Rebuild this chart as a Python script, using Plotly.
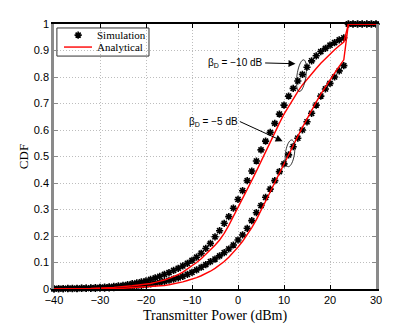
import numpy as np
import plotly.graph_objects as go

# transmit power grid (dBm)
power_dbm = list(range(-40, 31))

# simulation, beta_D = -10 dB
sim_m10 = [0.001, 0.001, 0.001, 0.002, 0.002, 0.002, 0.003, 0.003, 0.004, 0.005,
           0.006, 0.007, 0.008, 0.010, 0.012, 0.014, 0.017, 0.020, 0.023, 0.027,
           0.031, 0.036, 0.042, 0.048, 0.055, 0.062, 0.070, 0.078, 0.087, 0.097,
           0.108, 0.120, 0.135, 0.153, 0.172, 0.197, 0.220, 0.248, 0.273, 0.305,
           0.338, 0.371, 0.409, 0.445, 0.483, 0.525, 0.558, 0.591, 0.625, 0.660,
           0.694, 0.728, 0.757, 0.785, 0.810, 0.837, 0.861, 0.880, 0.896, 0.908,
           0.920, 0.930, 0.940, 0.948, 1.0, 1.0, 1.0, 1.0, 1.0, 1.0, 1.0]

# simulation, beta_D = -5 dB
sim_m5 = [0.000, 0.001, 0.001, 0.001, 0.001, 0.001, 0.002, 0.002, 0.002, 0.002,
          0.003, 0.003, 0.004, 0.005, 0.006, 0.007, 0.008, 0.010, 0.012, 0.014,
          0.016, 0.019, 0.022, 0.025, 0.029, 0.033, 0.037, 0.042, 0.048, 0.055,
          0.063, 0.072, 0.082, 0.092, 0.103, 0.113, 0.125, 0.137, 0.151, 0.166,
          0.185, 0.204, 0.229, 0.258, 0.288, 0.315, 0.346, 0.377, 0.409, 0.443,
          0.472, 0.506, 0.537, 0.569, 0.600, 0.631, 0.663, 0.694, 0.728, 0.755,
          0.776, 0.800, 0.823, 0.843, 1.0, 1.0, 1.0, 1.0, 1.0, 1.0, 1.0]

# analytical, beta_D = -10 dB
ana_m10 = [0.000, 0.000, 0.001, 0.001, 0.001, 0.001, 0.002, 0.002, 0.002, 0.003,
           0.003, 0.004, 0.005, 0.006, 0.007, 0.008, 0.010, 0.012, 0.014, 0.016,
           0.018, 0.021, 0.025, 0.029, 0.034, 0.040, 0.046, 0.054, 0.064, 0.075,
           0.087, 0.100, 0.114, 0.130, 0.147, 0.165, 0.185, 0.210, 0.240, 0.273,
           0.305, 0.340, 0.375, 0.410, 0.445, 0.482, 0.520, 0.558, 0.592, 0.626,
           0.660, 0.690, 0.718, 0.745, 0.770, 0.792, 0.812, 0.832, 0.852, 0.870,
           0.888, 0.903, 0.918, 0.932, 1.0, 1.0, 1.0, 1.0, 1.0, 1.0, 1.0]

# analytical, beta_D = -5 dB
ana_m5 = [0.000, 0.000, 0.000, 0.000, 0.000, 0.000, 0.000, 0.001, 0.001, 0.001,
          0.001, 0.001, 0.002, 0.002, 0.002, 0.003, 0.004, 0.004, 0.005, 0.006,
          0.007, 0.008, 0.009, 0.011, 0.013, 0.016, 0.019, 0.022, 0.027, 0.032,
          0.037, 0.043, 0.050, 0.058, 0.067, 0.078, 0.090, 0.104, 0.120, 0.138,
          0.158, 0.180, 0.205, 0.232, 0.262, 0.295, 0.330, 0.366, 0.402, 0.438,
          0.472, 0.507, 0.542, 0.576, 0.610, 0.643, 0.675, 0.705, 0.735, 0.763,
          0.790, 0.815, 0.840, 0.865, 1.0, 1.0, 1.0, 1.0, 1.0, 1.0, 1.0]

legend_labels = ["Simulation", "Analytical"]

SERIF = "Liberation Serif"
SANS = "Liberation Sans"

fig = go.Figure()

sim_marker = dict(symbol="asterisk-open", size=6, color="black",
                  line=dict(color="black", width=1.6))

for ys in [sim_m10, sim_m5]:
    fig.add_trace(go.Scatter(
        x=power_dbm, y=ys, mode="markers", name="Simulation",
        marker=sim_marker, showlegend=False, cliponaxis=False))

for ys in [ana_m10, ana_m5]:
    fig.add_trace(go.Scatter(
        x=power_dbm, y=ys, mode="lines", name="Analytical",
        line=dict(color="#ff0000", width=1.4), showlegend=False,
        cliponaxis=False))

# hand-made legend (matlab style, compact box in upper left)
fig.add_shape(type="rect", xref="paper", yref="paper",
              x0=0.009, x1=0.295, y0=0.879, y1=0.985,
              fillcolor="white", line=dict(color="#333333", width=1), layer="between")
fig.add_trace(go.Scatter(x=[0.075], y=[0.958], mode="markers", xaxis="x2", yaxis="y2",
                         marker=sim_marker, showlegend=False, hoverinfo="skip"))
fig.add_shape(type="line", xref="paper", yref="paper", x0=0.031, x1=0.118,
              y0=0.913, y1=0.913, line=dict(color="#ff0000", width=1.4), layer="above")
for lab, yy in zip(legend_labels, [0.958, 0.913]):
    fig.add_annotation(xref="paper", yref="paper", x=0.128, y=yy, text=lab,
                       xanchor="left", yanchor="middle", showarrow=False,
                       font=dict(family=SERIF, size=11, color="black"))


def ellipse_path(w, h, tilt_deg):
    t = np.linspace(0, 2 * np.pi, 41)
    a = np.deg2rad(tilt_deg)
    px = w / 2 * np.cos(t)
    py = h / 2 * np.sin(t)
    xr = px * np.cos(a) - py * np.sin(a)
    yr = px * np.sin(a) + py * np.cos(a)
    pts = [f"{xx:.2f},{yy:.2f}" for xx, yy in zip(xr, yr)]
    return "M" + " L".join(pts) + " Z"


# ellipses round the curve pairs
for cx, cy, w, h in [(13.8, 0.805, 9, 32), (11.3, 0.512, 9, 27)]:
    fig.add_shape(type="path", xref="x", yref="y", xsizemode="pixel",
                  ysizemode="pixel", xanchor=cx, yanchor=cy,
                  path=ellipse_path(w, h, -8),
                  line=dict(color="black", width=0.8))

# labels with arrows
fig.add_annotation(x=12.5, y=0.85, ax=5.9, ay=0.853, axref="x", ayref="y",
                   text="β<sub>D</sub> = −10 dB", xanchor="right", yanchor="middle",
                   showarrow=True, arrowhead=2, arrowsize=1.4,
                   arrowwidth=1, arrowcolor="black",
                   font=dict(family=SANS, size=10, color="black"))
fig.add_annotation(x=9.7, y=0.558, ax=0.4, ay=0.632, axref="x", ayref="y",
                   text="β<sub>D</sub> = −5 dB", xanchor="right", yanchor="middle",
                   showarrow=True, arrowhead=2, arrowsize=1.4,
                   arrowwidth=1, arrowcolor="black",
                   font=dict(family=SANS, size=10, color="black"))

# page body has an 8 px margin, so the figure is drawn 8 px smaller
fig.update_layout(
    width=407, height=318,
    margin=dict(l=46, r=39, t=16, b=37),
    paper_bgcolor="white", plot_bgcolor="white",
    font=dict(family=SANS, size=11, color="black"),
    showlegend=False,
    xaxis=dict(range=[-40, 30], dtick=10, tick0=-40, automargin=False,
               showgrid=True, gridcolor="#bdbdbd", griddash="1px,2px", gridwidth=1,
               zeroline=False, showline=True, linecolor="black", linewidth=1.5,
               mirror="ticks", ticks="inside", ticklen=4, tickcolor="black",
               title=dict(text="Transmitter Power (dBm)", standoff=5,
                          font=dict(family=SERIF, size=14))),
    yaxis=dict(range=[0, 1], dtick=0.1, automargin=False,
               showgrid=True, gridcolor="#bdbdbd", griddash="1px,2px", gridwidth=1,
               zeroline=False, showline=True, linecolor="#8a8a8a", linewidth=2.5,
               mirror="ticks", ticks="inside", ticklen=4, tickcolor="#8a8a8a",
               title=dict(text="CDF", standoff=3,
                          font=dict(family=SERIF, size=13))),
    xaxis2=dict(overlaying="x", range=[0, 1], visible=False, automargin=False),
    yaxis2=dict(overlaying="y", range=[0, 1], visible=False, automargin=False),
)

fig.write_html("out.html")
